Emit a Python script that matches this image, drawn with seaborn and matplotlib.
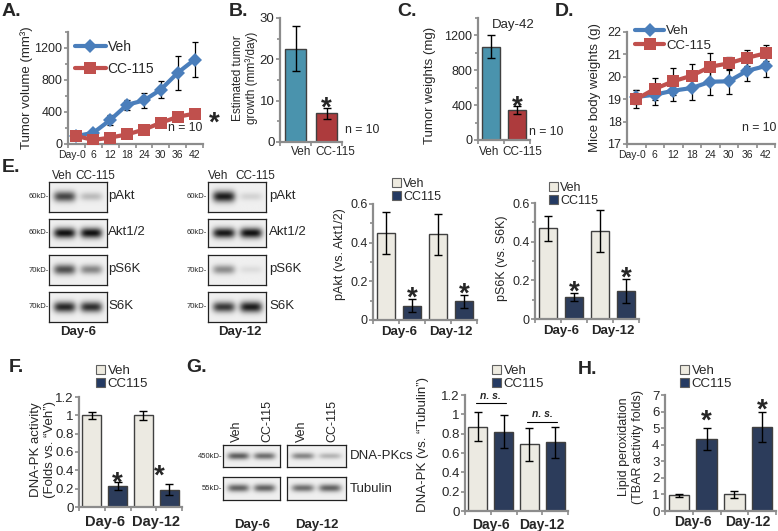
import numpy as np
import pandas as pd
import matplotlib
matplotlib.use("Agg")
import matplotlib.pyplot as plt
import matplotlib.transforms as mtransforms
from matplotlib.patches import Patch
from matplotlib.lines import Line2D
from matplotlib.ticker import FuncFormatter, FixedLocator
import seaborn as sns

# ---------------- data ----------------
days = ["Day-0", "6", "12", "18", "24", "30", "36", "42"]
vol_veh = [100, 140, 300, 490, 545, 680, 890, 1055]
vol_veh_err = [0, 20, 65, 65, 90, 105, 215, 215]
vol_cc = [100, 50, 80, 120, 180, 265, 340, 380]
vol_cc_err = [0, 15, 25, 40, 35, 40, 55, 55]

groups2 = ["Veh", "CC-115"]
growth = [22.6, 6.9]
growth_err = [5.4, 1.4]
weights = [1072, 342]
weights_err = [135, 45]

bw_veh = [19.1, 19.2, 19.38, 19.5, 19.78, 19.8, 20.27, 20.48]
bw_veh_err = [0.3, 0.45, 0.45, 0.55, 0.6, 0.55, 0.45, 0.5]
bw_cc = [19.0, 19.46, 19.8, 20.05, 20.45, 20.6, 20.85, 21.05]
bw_cc_err = [0.4, 0.5, 0.6, 0.5, 0.6, 0.3, 0.35, 0.35]

timepoints = ["Day-6", "Day-12"]
treat = ["Veh", "CC115"]
pakt_veh = [0.45, 0.443]
pakt_veh_err = [0.11, 0.107]
pakt_cc = [0.075, 0.096]
pakt_cc_err = [0.036, 0.035]
ps6k_veh = [0.469, 0.455]
ps6k_veh_err = [0.065, 0.11]
ps6k_cc = [0.115, 0.145]
ps6k_cc_err = [0.02, 0.062]
dnapk_act_veh = [1.0, 1.0]
dnapk_act_veh_err = [0.035, 0.05]
dnapk_act_cc = [0.23, 0.19]
dnapk_act_cc_err = [0.045, 0.06]
dnapk_tub_veh = [0.87, 0.69]
dnapk_tub_veh_err = [0.15, 0.17]
dnapk_tub_cc = [0.82, 0.71]
dnapk_tub_cc_err = [0.17, 0.16]
lipid_veh = [0.95, 1.0]
lipid_veh_err = [0.1, 0.22]
lipid_cc = [4.33, 5.09]
lipid_cc_err = [0.67, 0.9]

blot_lanes = ["Veh", "CC-115"]
blot_e_proteins = ["pAkt", "Akt1/2", "pS6K", "S6K"]
blot_e_markers = ["60kD-", "60kD-", "70kD-", "70kD-"]
blot_e_day6 = [[0.72, 0.22], [0.95, 0.95], [0.68, 0.45], [0.85, 0.82]]
blot_e_day12 = [[0.9, 0.12], [0.92, 0.95], [0.42, 0.08], [0.78, 0.9]]
blot_g_proteins = ["DNA-PKcs", "Tubulin"]
blot_g_markers = ["450kD-", "55kD-"]
blot_g_day6 = [[0.62, 0.55], [0.6, 0.6]]
blot_g_day12 = [[0.45, 0.25], [0.55, 0.6]]

# ---------------- style ----------------
sns.set_style("ticks")
plt.rcParams["font.family"] = ["Liberation Sans", "DejaVu Sans"]
plt.rcParams["axes.unicode_minus"] = False

W, H = 778, 531
fig = plt.figure(figsize=(W / 100, H / 100), dpi=100)
fig.patch.set_facecolor("white")
PX = mtransforms.Affine2D().scale(1.0 / W, -1.0 / H).translate(0, 1) + fig.transFigure

SPINE = "#8c8c8c"
BLUE = "#4a7ebb"
RED = "#c0504d"
TEAL = "#3a9bbd"
DRED = "#c0282b"
VEHC = "#eeebe0"
NAVY = "#243a63"
EDGE = "#404040"
fmt_g = FuncFormatter(lambda v, p: f"{v:g}")


def add_ax(l, t, r, b):
    return fig.add_axes([l / W, 1 - b / H, (r - l) / W, (b - t) / H])


def ftext(x, y, s, **kw):
    return fig.text(x, y, s, transform=PX, **kw)


def shift_label(lab, dx):
    lab.set_transform(lab.get_transform() + mtransforms.ScaledTranslation(dx / 100, 0, fig.dpi_scale_trans))


def style(ax, ysize=9, xsize=9, xpad=3, xmajor_len=0):
    for s in ["top", "right"]:
        ax.spines[s].set_visible(False)
    for s in ["left", "bottom"]:
        ax.spines[s].set_color(SPINE)
        ax.spines[s].set_linewidth(1.6)
    ax.tick_params(axis="both", which="both", color=SPINE, width=1.2, direction="out")
    ax.tick_params(axis="y", which="major", length=3, labelsize=ysize, pad=1)
    ax.tick_params(axis="y", which="minor", length=2.5)
    ax.tick_params(axis="x", which="major", length=xmajor_len, pad=xpad, labelsize=xsize)
    ax.tick_params(axis="x", which="minor", length=3)
    ax.set_facecolor("none")
    ax.set_xlabel("")


def ylab(ax, s, x, y, size=9):
    ax.set_ylabel(s, fontsize=size, va="center", ha="center", multialignment="center")
    ax.yaxis.set_label_coords(x, y, transform=PX)


def star_px(x, y, size=20):
    fs = size * 100 / 72
    ftext(x, y + 0.57 * fs, "*", fontsize=size, fontweight="bold", ha="center", va="baseline")


def star(ax, x, y, gap, dx=0, size=20):
    fs = size * 100 / 72
    ax.annotate("*", xy=(x, y), xytext=(dx * 0.72, (gap - 0.57 * fs) * 0.72),
                textcoords="offset points", ha="center", va="baseline",
                fontsize=size, fontweight="bold", annotation_clip=False)


def panel(x, y, s):
    ftext(x, y, s, fontsize=14, fontweight="bold", ha="left", va="center")


def bar_errors(ax, errs):
    tops = []
    for cont, es in zip(ax.containers, errs):
        for bar, e in zip(cont, es):
            x = bar.get_x() + bar.get_width() / 2
            h = bar.get_height()
            ax.errorbar(x, h, yerr=e, fmt="none", ecolor="black", elinewidth=1,
                        capsize=3, capthick=1, zorder=5)
            tops.append((x, h + e))
    return tops


def grouped(ax, veh, veh_err, cc, cc_err, xsize=9, xpad=1, ysize=9):
    df = pd.DataFrame({"day": timepoints * 2,
                       "group": [treat[0]] * 2 + [treat[1]] * 2,
                       "val": list(veh) + list(cc)})
    sns.barplot(data=df, x="day", y="val", hue="group", hue_order=treat,
                palette={treat[0]: VEHC, treat[1]: NAVY}, width=1.0, gap=0.27,
                edgecolor=EDGE, linewidth=1, errorbar=None, legend=False, ax=ax)
    tops = bar_errors(ax, [veh_err, cc_err])
    ax.set_xlim(-0.5, 1.5)
    ax.set_xticks([0, 1])
    ax.set_xticklabels(timepoints, fontweight="bold")
    ax.xaxis.set_minor_locator(FixedLocator([-0.5, 0.5, 1.5]))
    style(ax, xsize=xsize, xpad=xpad, xmajor_len=3, ysize=ysize)
    ax.set_ylabel("")
    return tops  # veh d6, veh d12, cc d6, cc d12


def bar_legend(ax, x, y, size=9.5):
    handles = [Patch(facecolor=VEHC, edgecolor="#606060", lw=0.8, label=treat[0]),
               Patch(facecolor=NAVY, edgecolor="#606060", lw=0.8, label=treat[1])]
    ax.legend(handles=handles, loc="upper left", bbox_to_anchor=(x, y), bbox_transform=PX,
              frameon=False, fontsize=size, handlelength=0.7, handleheight=0.7,
              handletextpad=0.2, labelspacing=0.05, borderpad=0, borderaxespad=0)


def band_image(intens, w, h):
    nx, ny = int(w * 4), int(h * 4)
    X, Y = np.meshgrid(np.linspace(0, 1, nx), np.linspace(0, 1, ny))
    img = np.full(X.shape, 0.94)
    for c, a in zip([0.27, 0.73], intens):
        sig = 0.12 + 0.07 * a
        prof = np.exp(-((X - c) / 0.19) ** 4) * np.exp(-((Y - 0.5) / sig) ** 2)
        img -= a * 0.92 * prof
    return np.clip(img, 0, 1)


def blot(l, t, r, b, intens):
    ax = add_ax(l, t, r, b)
    ax.imshow(band_image(intens, r - l, b - t), cmap="gray", vmin=0, vmax=1,
              aspect="auto", interpolation="bilinear")
    ax.set_xticks([])
    ax.set_yticks([])
    for s in ax.spines.values():
        s.set_visible(True)
        s.set_color("#222222")
        s.set_linewidth(0.9)
    return ax


def line_panel(ax, veh, veh_err, cc, cc_err):
    df = pd.DataFrame({"x": list(range(len(days))) * 2,
                       "val": list(veh) + list(cc),
                       "group": [groups2[0]] * len(days) + [groups2[1]] * len(days)})
    sns.lineplot(data=df, x="x", y="val", hue="group", style="group",
                 markers={groups2[0]: "D", groups2[1]: "s"}, dashes=False,
                 palette={groups2[0]: BLUE, groups2[1]: RED}, linewidth=3,
                 markersize=7, markeredgewidth=0, errorbar=None, legend=False,
                 ax=ax, zorder=3)
    for ln in ax.lines:
        ln.set_markersize(8 if ln.get_marker() == "s" else 7)
    for vals, errs in [(veh, veh_err), (cc, cc_err)]:
        idx = [i for i, e in enumerate(errs) if e > 0]
        ax.errorbar(idx, [vals[i] for i in idx], yerr=[errs[i] for i in idx], fmt="none",
                    ecolor="black", elinewidth=0.9, capsize=2.5, capthick=0.9, zorder=2)
    ax.set_xlim(-0.5, len(days) - 0.5)
    ax.set_xticks(range(len(days)))
    ax.set_xticklabels(days)
    ax.xaxis.set_minor_locator(FixedLocator(np.arange(-0.5, len(days), 1.0)))
    style(ax, xsize=7.5, xpad=4.5)
    ax.set_ylabel("")
    shift_label(ax.get_xticklabels()[0], -4)


def line_legend(ax, x, y, size=10, spacing=0.6):
    handles = [Line2D([], [], color=BLUE, lw=3, marker="D", markersize=7, markeredgewidth=0, label=groups2[0]),
               Line2D([], [], color=RED, lw=3, marker="s", markersize=8, markeredgewidth=0, label=groups2[1])]
    ax.legend(handles=handles, loc="upper left", bbox_to_anchor=(x, y), bbox_transform=PX,
              frameon=False, fontsize=size, handlelength=2.2, handletextpad=0.15,
              labelspacing=spacing, borderpad=0, borderaxespad=0)


# ---------------- A ----------------
axA = add_ax(68, 32, 203, 144)
line_panel(axA, vol_veh, vol_veh_err, vol_cc, vol_cc_err)
axA.set_ylim(0, 1400)
axA.set_yticks([0, 400, 800, 1200])
axA.yaxis.set_minor_locator(FixedLocator([200, 600, 1000, 1400]))
axA.tick_params(axis="y", labelsize=9)
ylab(axA, "Tumor volume (mm³)", 27, 88, size=9.5)
line_legend(axA, 75, 40, size=10, spacing=0.55)
ftext(168, 128, "n = 10", fontsize=8.8, ha="left", va="center")
star_px(214, 115)
panel(2, 12, "A.")

# ---------------- B ----------------
axB = add_ax(280, 18, 342, 142)
sns.barplot(x=groups2, y=growth, hue=groups2, palette=[TEAL, DRED], width=0.68,
            edgecolor=EDGE, linewidth=1, legend=False, errorbar=None, ax=axB)
topsB = bar_errors(axB, [[growth_err[0]], [growth_err[1]]])
axB.set_xlim(-0.5, 1.5)
axB.set_ylim(0, 30)
axB.set_yticks([0, 10, 20, 30])
axB.yaxis.set_minor_locator(FixedLocator([5, 15, 25]))
axB.xaxis.set_minor_locator(FixedLocator([-0.5, 0.5, 1.5]))
style(axB, ysize=9.5, xsize=8.5, xpad=3)
for lab, dx in zip(axB.get_xticklabels(), [6, 9]):
    shift_label(lab, dx)
ylab(axB, "Estimated tumor\ngrowth (mm³/day)", 245, 78, size=8.5)
star(axB, topsB[1][0], topsB[1][1], 8)
ftext(345, 130, "n = 10", fontsize=8.8, ha="left", va="center")
panel(229, 12, "B.")

# ---------------- C ----------------
axC = add_ax(478, 18, 530, 140)
sns.barplot(x=groups2, y=weights, hue=groups2, palette=[TEAL, DRED], width=0.7,
            edgecolor=EDGE, linewidth=1, legend=False, errorbar=None, ax=axC)
topsC = bar_errors(axC, [[weights_err[0]], [weights_err[1]]])
axC.set_xlim(-0.5, 1.5)
axC.set_ylim(0, 1400)
axC.set_yticks([0, 400, 800, 1200])
axC.yaxis.set_minor_locator(FixedLocator([200, 600, 1000, 1400]))
axC.xaxis.set_minor_locator(FixedLocator([-0.5, 0.5, 1.5]))
style(axC, ysize=9, xsize=8.5, xpad=4)
for lab, dx in zip(axC.get_xticklabels(), [-1.5, 5]):
    shift_label(lab, dx)
ylab(axC, "Tumor weights (mg)", 430, 85, size=9.5)
star(axC, topsC[1][0], topsC[1][1], 7)
ftext(492, 25, "Day-42", fontsize=9.5, ha="left", va="center")
ftext(529, 132, "n = 10", fontsize=8.8, ha="left", va="center")
panel(397, 12, "C.")

# ---------------- D ----------------
axD = add_ax(627, 32, 775, 144)
line_panel(axD, bw_veh, bw_veh_err, bw_cc, bw_cc_err)
axD.set_ylim(17, 22)
axD.set_yticks([17, 18, 19, 20, 21, 22])
axD.tick_params(axis="y", labelsize=9)
ylab(axD, "Mice body weights (g)", 595, 88, size=9.5)
line_legend(axD, 635, 25, size=9.5, spacing=0.2)
ftext(742, 128, "n = 10", fontsize=8.8, ha="left", va="center")
panel(555, 12, "D.")

# ---------------- E blots ----------------
panel(2, 167, "E.")
rows_E = [(182, 212), (219, 247), (255, 285), (292, 322)]
for (t, b), prot, mk, i6, i12 in zip(rows_E, blot_e_proteins, blot_e_markers, blot_e_day6, blot_e_day12):
    blot(49, t, 107, b, i6)
    blot(208, t, 266, b, i12)
    yc = (t + b) / 2
    ftext(108, yc - 1, prot, fontsize=9.5, ha="left", va="center")
    ftext(269, yc - 1, prot, fontsize=9.5, ha="left", va="center")
    ftext(49, yc, mk, fontsize=5.5, ha="right", va="center")
    ftext(207, yc, mk, fontsize=5.5, ha="right", va="center")
for xs in [(62, 95), (218, 255)]:
    ftext(xs[0], 176, blot_lanes[0], fontsize=8.5, ha="center", va="center")
    ftext(xs[1], 176, blot_lanes[1], fontsize=8.5, ha="center", va="center")
ftext(78, 332, timepoints[0], fontsize=9.5, fontweight="bold", ha="center", va="center")
ftext(240, 332, timepoints[1], fontsize=9.5, fontweight="bold", ha="center", va="center")

# ---------------- E bar charts ----------------
axP = add_ax(373, 204, 477, 320)
topsP = grouped(axP, pakt_veh, pakt_veh_err, pakt_cc, pakt_cc_err, xsize=9.5, xpad=1)
axP.set_ylim(0, 0.6)
axP.set_yticks([0, 0.2, 0.4, 0.6])
axP.yaxis.set_major_formatter(fmt_g)
axP.yaxis.set_minor_locator(FixedLocator([0.1, 0.3, 0.5]))
ylab(axP, "pAkt (vs. Akt1/2)", 340, 254, size=9)
bar_legend(axP, 392, 178, size=9)
star(axP, topsP[2][0], topsP[2][1], 9)
star(axP, topsP[3][0], topsP[3][1], 9)

axS = add_ax(535, 203, 639, 319)
topsS = grouped(axS, ps6k_veh, ps6k_veh_err, ps6k_cc, ps6k_cc_err, xsize=9.5, xpad=1)
axS.set_ylim(0, 0.6)
axS.set_yticks([0, 0.2, 0.4, 0.6])
axS.yaxis.set_major_formatter(fmt_g)
axS.yaxis.set_minor_locator(FixedLocator([0.1, 0.3, 0.5]))
ylab(axS, "pS6K (vs. S6K)", 502, 258, size=9)
bar_legend(axS, 549, 182, size=9)
star(axS, topsS[2][0], topsS[2][1], 9)
star(axS, topsS[3][0], topsS[3][1], 9)

# ---------------- F ----------------
panel(9, 368, "F.")
axF = add_ax(79, 397, 182, 507)
topsF = grouped(axF, dnapk_act_veh, dnapk_act_veh_err, dnapk_act_cc, dnapk_act_cc_err,
                xsize=10.5, xpad=3, ysize=9.5)
axF.set_ylim(0, 1.2)
axF.set_yticks([0, 0.2, 0.4, 0.6, 0.8, 1.0, 1.2])
axF.yaxis.set_major_formatter(fmt_g)
ylab(axF, "DNA-PK activity\n(Folds vs. \u201cVeh\u201d)", 43, 450, size=9.5)
bar_legend(axF, 96, 365, size=9.5)
star(axF, topsF[2][0], topsF[2][1], 7)
star(axF, topsF[3][0], topsF[3][1], 16, dx=-9.5)

# ---------------- G blots ----------------
panel(186, 368, "G.")
rows_G = [(445, 467), (477, 500)]
for (t, b), prot, mk, i6, i12 in zip(rows_G, blot_g_proteins, blot_g_markers, blot_g_day6, blot_g_day12):
    blot(223, t, 280, b, i6)
    blot(287, t, 346, b, i12)
    yc = (t + b) / 2
    ftext(350, yc, prot, fontsize=9.5, ha="left", va="center")
    ftext(222, yc, mk, fontsize=5.5, ha="right", va="center")
for l, r in [(223, 280), (287, 346)]:
    for frac, lane in zip([0.25, 0.77], blot_lanes):
        ftext(l + frac * (r - l), 442, lane, fontsize=9, rotation=90, ha="center", va="bottom")
ftext(252, 525, timepoints[0], fontsize=9.5, fontweight="bold", ha="center", va="center")
ftext(317, 525, timepoints[1], fontsize=9.5, fontweight="bold", ha="center", va="center")

# ---------------- G bars ----------------
axG = add_ax(465, 395, 568, 511)
topsG = grouped(axG, dnapk_tub_veh, dnapk_tub_veh_err, dnapk_tub_cc, dnapk_tub_cc_err,
                xsize=10, xpad=2, ysize=9.5)
axG.set_ylim(0, 1.2)
axG.set_yticks([0, 0.2, 0.4, 0.6, 0.8, 1.0, 1.2])
axG.yaxis.set_major_formatter(fmt_g)
ylab(axG, "DNA-PK (vs. \u201cTubulin\u201d)", 423, 445, size=9.5)
bar_legend(axG, 492, 365, size=9.5)
for (xa, _), (xb, _), yb in [(topsG[0], topsG[2], 1.115), (topsG[1], topsG[3], 0.925)]:
    axG.plot([xa - 0.04, xb + 0.04], [yb, yb], color="black", lw=0.8, clip_on=False)
    axG.text((xa + xb) / 2, yb + 0.025, "n. s.", fontsize=7.5, fontstyle="italic",
             fontweight="bold", ha="center", va="bottom")

# ---------------- H ----------------
panel(578, 370, "H.")
axH = add_ax(665, 395, 776, 511)
topsH = grouped(axH, lipid_veh, lipid_veh_err, lipid_cc, lipid_cc_err, xsize=10, xpad=0, ysize=9.5)
axH.set_ylim(0, 7)
axH.set_yticks(range(8))
ylab(axH, "Lipid peroxidation\n(TBAR activity folds)", 631, 447, size=9)
bar_legend(axH, 680, 365, size=9.5)
star(axH, topsH[2][0], topsH[2][1], 15)
star(axH, topsH[3][0], topsH[3][1], 10)

fig.savefig("out.png", dpi=100, facecolor="white")
